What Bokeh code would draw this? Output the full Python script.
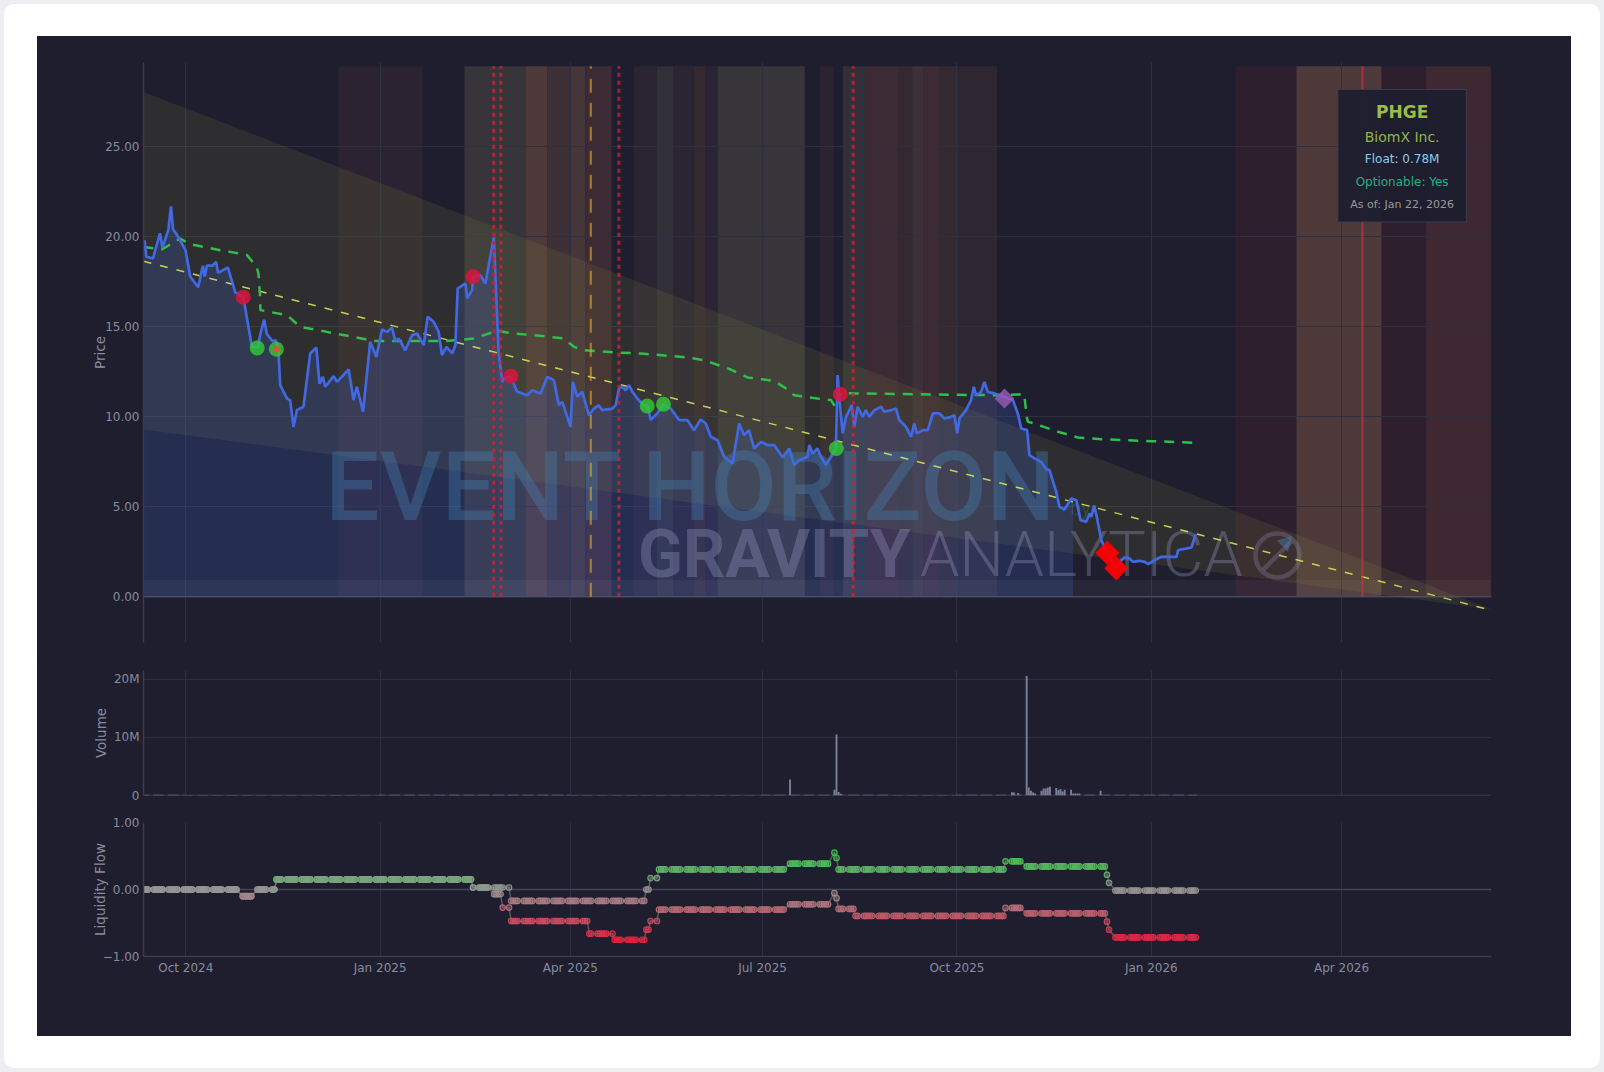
import numpy as np
import pandas as pd
from bokeh.plotting import figure
from bokeh.layouts import column
from bokeh.models import Range1d, FixedTicker, Span, DatetimeTickFormatter, PrintfTickFormatter
from bokeh.core.properties import value
from bokeh.embed import file_html
from bokeh.resources import INLINE

# ============================ DATA ============================
TICKER = "PHGE"
COMPANY = "BiomX Inc."
FLOAT_TXT = "Float: 0.78M"
OPTIONABLE_TXT = "Optionable: Yes"
ASOF_TXT = "As of: Jan 22, 2026"

START = "2024-09-11"          # first trading day shown (day 0)
LAST_TRADE = "2026-01-22"     # last close
PROJ_END_DAY = 638            # projection horizon (2026-06-11)

QUARTERS = ["2024-10-01", "2025-01-01", "2025-04-01", "2025-07-01",
            "2025-10-01", "2026-01-01", "2026-04-01"]

# close price, days since START
price_day = [0, 0.5, 1.3, 4.5, 7.8, 9, 11.8, 13, 14, 15.4, 19.9, 22.1, 25.9, 28.1, 29, 30, 32.6, 34.4,
             35.3, 39.9, 43.5, 47.2, 51.3, 54.1, 55.3, 57.1, 58.4, 61.1, 62.6, 63.8, 64.7, 67.9, 69.4,
             71.0, 72.6, 75.7, 78.9, 81.8, 83.3, 84.9, 86.0, 90.0, 91.6, 97.1, 99.4, 101.0, 103.9, 107.3,
             110.2, 112.9, 115.3, 117.6, 119.2, 120.8, 123.9, 127.1, 129.5, 132.6, 134.5, 137.3, 139.7,
             141.3, 143.4, 146.1, 147.6, 148.7, 152.4, 153.2, 155.5, 156.0, 159.5, 161.8, 163.5, 165.8,
             168.1, 169.8, 170.5, 173.7, 176.9, 181.6, 184.0, 187.9, 191.1, 194.2, 196.6, 198.2, 202.1,
             203.2, 205.3, 207.7, 210.8, 213.2, 215.5, 217.1, 221.9, 223.5, 225.0, 226.6, 228.2, 229.8,
             231.4, 233.7, 236.3, 238.8, 240.0, 243.2, 246.1, 249.5, 253.5, 257.4, 260.6, 263.7, 266.1,
             268.5, 271.7, 274.8, 278.8, 281.9, 284.3, 286.6, 289.0, 292.2, 295.4, 298.5, 302.5, 305.6,
             308.0, 310.3, 314.3, 315.1, 316.7, 319.0, 320.6, 323.0, 325.4, 327.7, 328.5, 329.3, 330.9,
             332.5, 335.2, 336.4, 338.0, 340.4, 341.9, 343.5, 345.9, 349.1, 350.6, 353.8, 356.2, 357.7,
             360.9, 363.3, 364.8, 366.1, 368.8, 371.2, 373.6, 376.7, 379.1, 382.2, 383.8, 385.1, 386.2,
             389.3, 391.7, 393.0, 394.1, 396.4, 398.0, 399.6, 402.8, 407.5, 411.5, 413.8, 415.4, 418.2,
             419.3, 421.7, 424.8, 427.2, 428.8, 432.0, 433.5, 435.9, 439.1, 441.5, 443.5, 446.2, 447.8,
             448.6, 449.9, 451.0, 453.3, 456.2, 460.4, 462.8, 464.4, 466.7, 468.3, 471.5, 473.9, 475.5,
             478.6, 481.8, 488.9, 489.7, 496.0, 498.0]
price_close = [19.3, 19.8, 18.9, 18.8, 20.2, 19.4, 20.4, 21.7, 20.4, 20.2, 19.26, 17.8, 17.2, 18.4, 17.8,
               18.4, 18.4, 18.6, 18.0, 18.3, 16.9, 16.67, 13.9, 13.85, 14.6, 15.4, 14.6, 14.2, 14.26, 13.8,
               11.76, 11.02, 10.93, 9.44, 10.37, 10.56, 13.52, 13.86, 11.85, 12.22, 11.67, 12.26, 11.94,
               12.63, 10.93, 11.67, 10.28, 14.17, 13.33, 14.85, 14.72, 14.96, 14.22, 14.35, 13.7, 14.54,
               14.63, 13.98, 15.56, 15.28, 14.72, 13.43, 13.89, 13.52, 13.98, 17.13, 17.41, 16.58, 17.04,
               17.8, 17.87, 17.41, 18.5, 19.97, 13.52, 11.94, 12.13, 12.26, 11.39, 11.2, 11.48, 11.3, 12.22,
               12.04, 10.65, 10.83, 9.44, 11.94, 11.11, 11.39, 10.09, 10.46, 10.65, 10.37, 10.46, 10.65,
               11.57, 11.67, 11.48, 11.76, 11.39, 11.02, 10.7, 10.56, 9.82, 10.19, 10.7, 10.46, 9.82, 9.82,
               9.26, 9.85, 9.63, 8.89, 8.7, 7.78, 7.41, 9.63, 8.98, 9.26, 8.24, 8.61, 8.43, 8.43, 7.74, 8.24,
               7.32, 7.59, 7.78, 8.43, 7.96, 8.24, 7.78, 7.32, 7.78, 8.24, 12.32, 11.11, 9.08, 10.0, 10.65,
               9.44, 10.56, 10.0, 10.37, 10.0, 10.37, 10.56, 10.28, 10.37, 10.46, 9.82, 9.44, 8.89, 9.63,
               9.08, 9.26, 9.26, 10.19, 10.19, 9.91, 10.0, 10.09, 9.08, 9.91, 10.37, 10.93, 11.67, 11.2,
               11.39, 11.94, 11.39, 11.3, 11.1, 10.93, 10.19, 9.35, 9.26, 7.87, 7.69, 7.5, 7.1, 7.04, 5.83,
               5.0, 4.85, 5.47, 5.37, 4.26, 4.17, 4.63, 4.44, 5.09, 4.54, 3.15, 2.44, 1.58, 2.04, 2.19, 2.13,
               1.94, 2.0, 1.94, 1.82, 2.04, 2.22, 2.22, 2.59, 2.74, 3.48]
fill_end_day = 440            # shaded area under price ends here

# resistance (green dashed)
resist_day = [0, 8.6, 17.3, 22.0, 36.3, 48.9, 53.6, 54.4, 55.2, 55.3, 67.9, 74.2, 86.8, 99.4, 108.9,
              143.7, 156.3, 167.4, 175.3, 190.0, 199.0, 203.7, 208.5, 224.3, 235.3, 257.4, 265.2, 270.0,
              278.0, 285.9, 298.5, 304.8, 308.0, 319.0, 325.4, 327.7, 330.1, 337.7, 402.6, 416.8, 418.2,
              418.6, 421.6, 429.6, 432.8, 442.3, 453.3, 464.4, 477.0, 488.1, 497.6]
resist_val = [19.44, 19.3, 19.9, 19.6, 19.26, 19.0, 18.33, 17.96, 16.67, 15.93, 15.65, 15.0, 14.72, 14.44,
              14.22, 14.22, 14.35, 14.78, 14.63, 14.48, 14.35, 13.89, 13.7, 13.57, 13.52, 13.3, 13.15,
              12.96, 12.63, 12.19, 12.0, 11.52, 11.2, 11.02, 10.93, 10.5, 11.33, 11.3, 11.2, 11.25, 9.9,
              9.72, 9.63, 9.3, 9.17, 8.85, 8.76, 8.7, 8.65, 8.6, 8.56]

# trend line and decay cone (endpoints at day 0 and PROJ_END_DAY)
trend_val = [18.65, -0.75]
cone_upper = [28.05, -0.7]
cone_lower = [9.3, -0.7]

# regime bands (days since START)
band_start = [92.2, 151.9, 180.8, 191.2, 201.7, 209.2, 232.0, 242.9, 250.9, 260.4, 266.1, 271.8, 320.1,
              331.0, 341.5, 357.1, 363.8, 369.0, 376.5, 385.5, 516.8, 545.7, 586.0, 606.9]
band_end = [132.0, 180.8, 191.2, 201.7, 209.2, 221.6, 242.9, 250.9, 260.4, 266.1, 271.8, 313.0, 326.8,
            341.5, 357.1, 363.8, 369.0, 376.5, 385.5, 404.0, 545.7, 586.0, 606.9, 637.7]
band_kind = ["mild", "neutral", "hot", "warm", "warm_hi", "red", "muted", "neutral_lo", "muted", "dull",
             "muted", "neutral", "mild", "neutral_lo", "red", "dull", "warm", "red", "dull", "mild2",
             "purple", "hot", "purple", "red_hi"]

# event lines
evt_dotted_day = [165.8, 169.1, 225.0, 335.9]
evt_gold_day = [211.7]
evt_solid_day = [576.9]

# signals
sell_day = [47.2, 156.0, 173.9, 329.8]
sell_px = [16.65, 17.8, 12.26, 11.26]
buy_day = [53.8, 62.9, 238.4, 246.1, 327.9]
buy_px = [13.83, 13.76, 10.6, 10.7, 8.24]
inner_day = [62.9]
inner_px = [13.76]
purple_day = [407.5]
purple_px = [11.02]
alert_day = [456.2, 460.4]
alert_px = [2.44, 1.58]

# volume: typical daily volume per month (M) + notable days (M)
vol_month = ["2024-09", "2024-10", "2024-11", "2024-12", "2025-01", "2025-02", "2025-03", "2025-04",
             "2025-05", "2025-06", "2025-07", "2025-08", "2025-09", "2025-10", "2025-11", "2025-12",
             "2026-01"]
vol_typical_m = [0.12, 0.1, 0.1, 0.1, 0.12, 0.15, 0.12, 0.1, 0.1, 0.1, 0.12, 0.15, 0.1, 0.15, 0.35, 0.15,
                 0.12]
vol_spike_date = ["2025-07-14", "2025-08-04", "2025-08-05", "2025-08-06", "2025-08-07", "2025-10-27",
                  "2025-10-28", "2025-10-30", "2025-11-03", "2025-11-04", "2025-11-05", "2025-11-06",
                  "2025-11-10", "2025-11-11", "2025-11-12", "2025-11-13", "2025-11-14", "2025-11-17",
                  "2025-11-18", "2025-11-19", "2025-11-20", "2025-11-21", "2025-11-24", "2025-12-08"]
vol_spike_m = [2.75, 1.0, 10.5, 0.6, 0.3, 0.55, 0.5, 0.45, 20.6, 1.4, 0.8, 0.5, 0.8, 1.2, 1.2, 1.4, 1.5,
               1.3, 0.9, 1.1, 0.7, 1.0, 1.0, 0.8]

# liquidity flow step levels
liq_up_start = ["2024-09-11", "2024-10-28", "2024-11-04", "2024-11-13", "2025-02-14", "2025-03-04",
                "2025-05-07", "2025-05-09", "2025-05-13", "2025-07-14", "2025-08-04", "2025-08-05",
                "2025-08-06", "2025-10-24", "2025-11-03", "2025-12-11", "2025-12-12", "2025-12-15"]
liq_up_val = [0.0, -0.1, 0.0, 0.15, 0.03, -0.17, 0.0, 0.17, 0.3, 0.385, 0.55, 0.47, 0.3, 0.42, 0.345,
              0.22, 0.1, -0.015]
liq_lo_start = ["2024-09-11", "2024-10-28", "2024-11-04", "2024-11-13", "2025-02-14", "2025-02-24",
                "2025-02-28", "2025-03-04", "2025-04-10", "2025-04-22", "2025-05-07", "2025-05-09",
                "2025-05-13", "2025-07-14", "2025-08-04", "2025-08-05", "2025-08-06", "2025-08-14",
                "2025-10-24", "2025-11-03", "2025-12-11", "2025-12-12", "2025-12-15"]
liq_lo_val = [0.0, -0.1, 0.0, 0.15, 0.03, -0.07, -0.27, -0.47, -0.66, -0.75, -0.6, -0.47, -0.3, -0.22,
              -0.055, -0.13, -0.29, -0.395, -0.275, -0.355, -0.48, -0.6, -0.715]

# ============================ STYLE ============================
BG = "#1e1e2e"
GRID = "#2e2f40"
ZERO = "#444558"
AXIS = "#3a3b4d"
TICK = "#878c9e"
FONT = "DejaVu Sans"
BLUE = "#4169e1"
BAND_TOP = 29.48
KIND_COLORS = {
    "mild": "#2b2331", "mild2": "#2e2731", "neutral": "#37353a", "neutral_lo": "#312f37",
    "hot": "#4e3a3b", "warm": "#3e3037", "warm_hi": "#45363a", "red": "#3c2a34", "muted": "#2a2433",
    "dull": "#342831", "purple": "#2d1f2e", "red_hi": "#3e2831",
}
W = 1534

BASE = pd.Timestamp(START)


def dts(days):
    return (BASE + pd.to_timedelta(np.asarray(days, dtype=float), unit="D")).to_numpy()


def dt1(day):
    return (BASE + pd.Timedelta(days=float(day))).to_pydatetime()


quarter_ms = [pd.Timestamp(q).value / 1e6 for q in QUARTERS]
xr = Range1d(start=dt1(0), end=dt1(PROJ_END_DAY))


def make_fig(height, top, bottom, yr):
    p = figure(width=W, height=height, x_range=xr, y_range=yr, x_axis_type="datetime",
               output_backend="svg", toolbar_location=None,
               min_border_left=106, min_border_right=80, min_border_top=top, min_border_bottom=bottom,
               background_fill_color=BG, border_fill_color=BG)
    p.outline_line_color = None
    p.outline_line_alpha = 0
    p.xgrid.ticker = FixedTicker(ticks=quarter_ms)
    p.xgrid.grid_line_color = GRID
    p.ygrid.grid_line_color = GRID
    ax = p.yaxis[0]
    ax.axis_line_color = AXIS
    ax.axis_line_width = 1.5
    ax.major_tick_line_color = None
    ax.minor_tick_line_color = None
    ax.major_tick_out = 0
    ax.major_label_standoff = 4
    ax.major_label_text_color = TICK
    ax.major_label_text_font = FONT
    ax.major_label_text_font_size = "12px"
    ax.axis_label_text_font = FONT
    ax.axis_label_text_font_style = "normal"
    ax.axis_label_text_font_size = "13.5px"
    ax.axis_label_text_color = TICK
    return p


# ---------------- price panel ----------------
p1 = make_fig(620, 26, 14, Range1d(-2.54, 29.69))
p1.xaxis.visible = False
p1.yaxis.ticker = FixedTicker(ticks=[0, 5, 10, 15, 20, 25])
p1.yaxis.formatter = PrintfTickFormatter(format="%.2f")
p1.ygrid.ticker = FixedTicker(ticks=[5, 10, 15, 20, 25])
p1.yaxis.axis_label = "Price"
p1.yaxis.axis_label_standoff = -6

p1.quad(left=dts(band_start), right=dts(band_end), bottom=0, top=BAND_TOP,
        fill_color=[KIND_COLORS[k] for k in band_kind], line_color=None, level="image")
p1.add_layout(Span(location=0, dimension="width", line_color=ZERO, line_width=1.5, level="underlay"))

# cone
p1.varea(x=dts([0, PROJ_END_DAY]), y1=cone_lower, y2=cone_upper, fill_color="#80803c", fill_alpha=0.17)
# fill under price
pdays = np.array(price_day)
pclose = np.array(price_close)
mask = pdays <= fill_end_day
fx = np.append(pdays[mask], fill_end_day)
fy = np.append(pclose[mask], np.interp(fill_end_day, pdays, pclose))
p1.varea(x=dts(fx), y1=0, y2=fy, fill_color=BLUE, fill_alpha=0.2)
# floor strip
p1.quad(left=dts([0]), right=dts([PROJ_END_DAY]), bottom=0, top=0.93, fill_color="white",
        fill_alpha=0.045, line_color=None)

# watermark
wm_blue = "#4682b4"
wm_gray = "#a0a0c8"
p1.text(x=[dt1(86)], y=[6.1], text=["EVENT HORIZON"], text_font=value("'Roboto Medium', Roboto"),
        text_font_size="96px", text_color=wm_blue, text_alpha=0.36, text_baseline="middle")
p1.text(x=[dt1(438.6)], y=[4.95], text=["by"], text_font=value("'Roboto Light', Roboto"),
        text_font_size="20px", text_color=wm_blue, text_alpha=0.36, text_baseline="middle")
p1.text(x=[dt1(234)], y=[2.35], text=["GRAVITY"], text_font=value("Roboto"), text_font_style="bold",
        text_font_size="66px", text_color=wm_gray, text_alpha=0.32, text_baseline="middle")
p1.text(x=[dt1(367.5)], y=[2.35], text=["ANALYTICA"], text_font=value("'Roboto Light', Roboto"),
        text_font_size="63px", text_color=wm_gray, text_alpha=0.32, text_baseline="middle")
p1.scatter(x=[dt1(536.7)], y=[2.3], marker="circle", size=44, fill_color=None, line_color=wm_gray,
           line_width=4.5, line_alpha=0.26)
p1.scatter(x=[dt1(536.7)], y=[2.3], marker="dash", size=40, angle=np.pi / 4, line_color=wm_gray,
           line_width=4.5, line_alpha=0.26)
p1.scatter(x=[dt1(540.5)], y=[3.0], marker="triangle", size=16, angle=-np.pi / 4, fill_color=wm_blue,
           line_color=None, fill_alpha=0.45)

# trend + resistance + price
p1.line(x=dts([0, PROJ_END_DAY]), y=trend_val, line_color="#d4e157", line_width=1.5, line_alpha=0.9,
        line_dash="8 9")
p1.line(x=dts(resist_day), y=resist_val, line_color="#2fbf4a", line_width=2.5, line_dash="10 8")
p1.line(x=dts(price_day), y=price_close, line_color=BLUE, line_width=2.7)

# signals
p1.scatter(x=dts(sell_day), y=sell_px, size=15, marker="circle", fill_color="#dc143c",
           line_color=None, fill_alpha=0.85)
p1.scatter(x=dts(buy_day), y=buy_px, size=15, marker="circle", fill_color="#32cd32",
           line_color=None, fill_alpha=0.8)
p1.scatter(x=dts(inner_day), y=inner_px, size=7, marker="circle", fill_color="#e05040",
           line_color=None, fill_alpha=0.9)
p1.scatter(x=dts(purple_day), y=purple_px, size=14, marker="square", angle=np.pi / 4,
           fill_color="#9b59b6", line_color=None, fill_alpha=0.8)
p1.scatter(x=dts(alert_day), y=alert_px, size=17, marker="square", angle=np.pi / 4,
           fill_color="#ff0000", line_color=None, fill_alpha=0.95)

# event lines
p1.segment(x0=dts(evt_dotted_day), y0=0, x1=dts(evt_dotted_day), y1=BAND_TOP, line_color="#c8243c",
           line_width=3, line_alpha=0.8, line_dash="4 4")
p1.segment(x0=dts(evt_gold_day), y0=0, x1=dts(evt_gold_day), y1=BAND_TOP, line_color="#daa520",
           line_width=2.2, line_alpha=0.65, line_dash="14 10")
p1.segment(x0=dts(evt_solid_day), y0=0, x1=dts(evt_solid_day), y1=BAND_TOP, line_color="#d0303a",
           line_width=2, line_alpha=0.7)

# info box
p1.quad(left=[dt1(565.3)], right=[dt1(626.1)], top=[28.19], bottom=[20.83], fill_color=BG,
        fill_alpha=0.95, line_color="#3b3c4e", line_width=1)
info_txt = [TICKER, COMPANY, FLOAT_TXT, OPTIONABLE_TXT, ASOF_TXT]
info_y = [26.94, 25.56, 24.32, 23.06, 21.82]
info_col = ["#9bbb4a", "#93b44a", "#87ceeb", "#20b283", "#9a9a9a"]
info_size = ["17px", "14px", "12px", "12px", "11px"]
info_style = ["bold", "normal", "normal", "normal", "normal"]
for t, yv, c, s, st in zip(info_txt, info_y, info_col, info_size, info_style):
    p1.text(x=[dt1(595.7)], y=[yv], text=[t], text_font=value(FONT), text_font_size=s,
            text_font_style=st, text_color=c, text_align="center", text_baseline="middle")

# ---------------- volume panel ----------------
bdays = pd.bdate_range(START, LAST_TRADE)
base_map = dict(zip(pd.PeriodIndex(vol_month, freq="M"), vol_typical_m))
vols = np.array([base_map[m] for m in bdays.to_period("M")], dtype=float)
for ds, v in zip(vol_spike_date, vol_spike_m):
    vols[bdays.get_loc(pd.Timestamp(ds))] = v
vols = vols * 1e6

p2 = make_fig(152, 14, 13, Range1d(0, 21.55e6))
p2.xaxis.visible = False
p2.yaxis.ticker = FixedTicker(ticks=[0, 10e6, 20e6])
p2.yaxis.major_label_overrides = {0: "0", 10000000: "10M", 20000000: "20M"}
p2.ygrid.ticker = FixedTicker(ticks=[10e6, 20e6])
p2.yaxis.axis_label = "Volume"
p2.yaxis.axis_label_standoff = 2
p2.add_layout(Span(location=0, dimension="width", line_color=ZERO, line_width=1.5, level="underlay"))
p2.vbar(x=bdays.to_numpy(), top=vols, width=0.9 * 86400000, fill_color="#8a93a8", line_color=None,
        fill_alpha=0.85)

# ---------------- liquidity panel ----------------


def steps(starts, vals):
    idx = np.searchsorted(pd.to_datetime(starts).to_numpy(), bdays.to_numpy(), side="right") - 1
    return np.asarray(vals, dtype=float)[idx]


def liq_color(v):
    gray = np.array([150, 150, 150])
    if v >= 0:
        t = min(v / 0.55, 1.0)
        c = gray * (1 - t) + np.array([46, 204, 64]) * t
    else:
        t = min(-v / 0.75, 1.0)
        c = gray * (1 - t) + np.array([232, 33, 61]) * t
    return "#%02x%02x%02x" % tuple(int(round(x)) for x in c)


p3 = make_fig(228, 14, 80, Range1d(-1, 1))
p3.yaxis.ticker = FixedTicker(ticks=[-1, 0, 1])
p3.yaxis.major_label_overrides = {-1: "\u22121.00", 0: "0.00", 1: "1.00"}
p3.ygrid.ticker = FixedTicker(ticks=[1])
p3.yaxis.axis_label = "Liquidity Flow"
p3.yaxis.axis_label_standoff = -8
p3.add_layout(Span(location=0, dimension="width", line_color=ZERO, line_width=1.5, level="underlay"))
xa = p3.xaxis[0]
xa.ticker = FixedTicker(ticks=quarter_ms)
xa.formatter = DatetimeTickFormatter(days="%b %Y", months="%b %Y", years="%b %Y", hours="%b %Y")
xa.axis_line_color = AXIS
xa.axis_line_width = 1.5
xa.major_tick_line_color = None
xa.minor_tick_line_color = None
xa.major_tick_out = 0
xa.major_label_standoff = 4
xa.major_label_text_color = TICK
xa.major_label_text_font = FONT
xa.major_label_text_font_size = "12px"

for st, vl in ((liq_lo_start, liq_lo_val), (liq_up_start, liq_up_val)):
    yv = steps(st, vl)
    cols = [liq_color(v) for v in yv]
    p3.line(x=bdays.to_numpy(), y=yv, line_color="#808080", line_alpha=0.6, line_width=1.5)
    p3.scatter(x=bdays.to_numpy(), y=yv, size=5.5, marker="circle",
               fill_color=cols, line_color=cols, fill_alpha=0.35, line_alpha=0.95, line_width=1.2)

# ---------------- layout ----------------
panel = column(p1, p2, p3, spacing=0, styles={"background-color": BG})
card = column(panel, styles={"background-color": "#ffffff", "border-radius": "10px",
                             "padding": "32px 29px 32px 33px"})
root = column(card, styles={"background-color": "#eceef2", "padding": "4px"})

open("out.html", "w").write(file_html(root, INLINE, title="PHGE"))
